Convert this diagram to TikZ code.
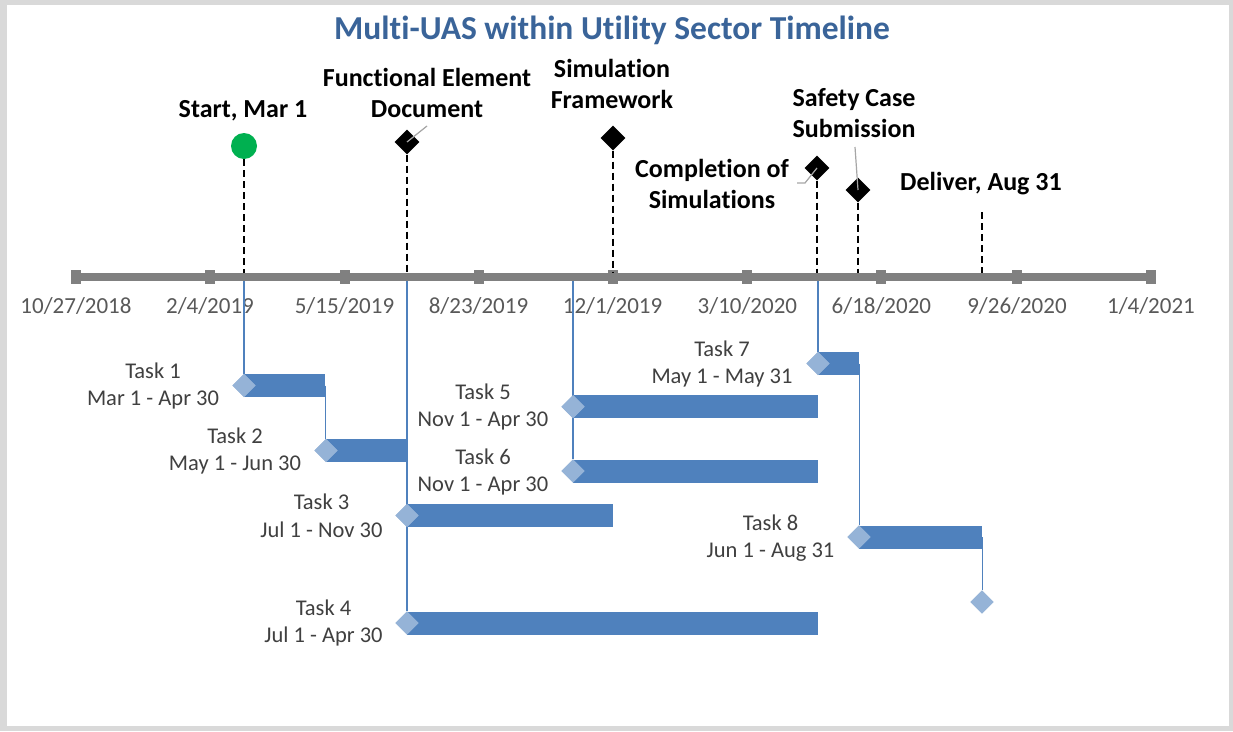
\documentclass[tikz,border=0pt]{standalone}
\usepackage{fontspec}
\setmainfont{Carlito}[Ligatures=NoCommon]
\usetikzlibrary{shapes.geometric}
\definecolor{framegray}{HTML}{D9D9D9}
\definecolor{axisgray}{HTML}{808080}
\definecolor{titleblue}{HTML}{3A6499}
\definecolor{barblue}{HTML}{4F81BD}
\definecolor{diablue}{HTML}{95B3D7}
\definecolor{msgreen}{HTML}{00B050}
\definecolor{leadergray}{HTML}{A6A6A6}
\definecolor{datetext}{HTML}{595959}
\definecolor{tasktext}{HTML}{404040}
\begin{document}
\begin{tikzpicture}[x=1pt,y=-1pt,
  titlelab/.style={font=\fontsize{33.5}{40}\selectfont\bfseries, text=titleblue, inner sep=0},
  mslabel/.style={font=\fontsize{26}{31}\selectfont\bfseries, align=center, inner sep=0},
  datelab/.style={font=\fontsize{23}{27}\selectfont, text=datetext, inner sep=0},
  tasklab/.style={font=\fontsize{22.5}{27.5}\selectfont, text=tasktext, align=center, inner sep=0},
  tickbox/.style={fill=axisgray, minimum width=10pt, minimum height=14pt, inner sep=0},
  msdia/.style={diamond, fill=black, minimum width=25pt, minimum height=25pt, inner sep=0},
  msdot/.style={circle, fill=msgreen, minimum size=26pt, inner sep=0},
  msline/.style={black, line width=1.3pt, dash pattern=on 7pt off 4pt},
  leader/.style={leadergray, line width=1.2pt},
  bar/.style={fill=barblue, minimum height=23pt, inner sep=0, anchor=west},
  tdia/.style={diamond, fill=diablue, minimum width=23pt, minimum height=23pt, inner sep=0},
  link/.style={barblue, line width=1.5pt}]

% frame
\fill[framegray] (0,0) rectangle (1233,731);
\fill[white] (7,5) rectangle (1229,726);
\useasboundingbox (0,0) rectangle (1233,731);

% title
\node[titlelab, anchor=base] (title) at (612,39) {Multi-UAS within Utility Sector Timeline};

% links from the axis down to the task bars start here
\coordinate (b1) at (244,281);
\coordinate (b2) at (407,281);
\coordinate (b3) at (573,281);
\coordinate (b4) at (818,281);

% time axis
\draw[axisgray, line width=8pt] (76,277) -- (1151,277);
\foreach \x/\lab [count=\i] in {76/{10/27/2018},210/{2/4/2019},344.5/{5/15/2019},478.5/{8/23/2019},612.6/{12/1/2019},747.4/{3/10/2020},881.4/{6/18/2020},1017/{9/26/2020},1151/{1/4/2021}} {
  \node[tickbox] (tk\i) at (\x,277) {};
  \node[datelab] (dl\i) at (\x,306) {\lab};
}

% milestones
\node[msdot] (m1) at (244,146) {};
\node[mslabel] (m1l) at (243,111) {Start, Mar 1};
\coordinate (a1) at (244,273);
\draw[msline] (m1.south) -- (a1);

\node[msdia] (m2) at (407,142) {};
\node[mslabel] (m2l) at (427,92.5) {Functional Element\\Document};
\coordinate (a2) at (407,273);
\coordinate (m2p) at (427,126);
\draw[msline] (m2.south) -- (a2);
\draw[leader] (m2p) -- (m2.center);

\node[msdia] (m3) at (613,138) {};
\node[mslabel] (m3l) at (612,84) {Simulation\\Framework};
\coordinate (a3) at (613,273);
\draw[msline] (m3.south) -- (a3);

\node[msdia] (m4) at (817,168) {};
\node[mslabel] (m4l) at (712,183.5) {Completion of\\Simulations};
\coordinate (a4) at (817,273);
\coordinate (m4p) at (797,183);
\coordinate (m4q) at (805,183);
\draw[msline] (m4.south) -- (a4);
\draw[leader] (m4p) -- (m4q) -- (m4.center);

\node[msdia] (m5) at (858,190) {};
\node[mslabel] (m5l) at (854,113) {Safety Case\\Submission};
\coordinate (a5) at (858,273);
\coordinate (m5p) at (855,147);
\draw[msline] (m5.south) -- (a5);
\draw[leader] (m5p) -- (m5.center);

\coordinate (m6) at (982,212);
\node[mslabel] (m6l) at (981,184) {Deliver, Aug 31};
\coordinate (a6) at (982,273);
\draw[msline] (m6) -- (a6);

% task bars
\node[bar, minimum width=81pt]  (t1) at (244,385.5) {};
\node[bar, minimum width=81pt]  (t2) at (326,450.5) {};
\node[bar, minimum width=206pt] (t3) at (407,515.5) {};
\node[bar, minimum width=411pt] (t4) at (407,623) {};
\node[bar, minimum width=245pt] (t5) at (573,406.7) {};
\node[bar, minimum width=245pt] (t6) at (573,471) {};
\node[bar, minimum width=41pt]  (t7) at (818,363.5) {};
\node[bar, minimum width=123pt] (t8) at (859,537) {};

% task start markers
\node[tdia] (d1) at (244,385.5) {};
\node[tdia] (d2) at (326,450.5) {};
\node[tdia] (d3) at (407,515.5) {};
\node[tdia] (d4) at (407,623) {};
\node[tdia] (d5) at (573,406.7) {};
\node[tdia] (d6) at (573,471) {};
\node[tdia] (d7) at (818,363.5) {};
\node[tdia] (d8) at (859,537) {};
\node[tdia] (d9) at (982,602) {};

% dependency links
\draw[link] (b1) -- (d1.north);
\draw[link] (t1.east) -- (t1.east |- d2.north);
\draw[link] (b2) -- (d4.north);
\draw[link] (b3) -- (d6.north);
\draw[link] (b4) -- (d7.north);
\draw[link] (t7.east) -- (t7.east |- d8.north);
\draw[link] (t8.east) -- (t8.east |- d9.north);

% markers painted again above the links
\foreach \d in {d1,d2,d3,d4,d5,d6,d7,d8,d9} {
  \fill[diablue] (\d.north) -- (\d.east) -- (\d.south) -- (\d.west) -- cycle;
}

% task labels
\node[tasklab] (l1) at (153,386) {Task 1\\Mar 1 - Apr 30};
\node[tasklab] (l2) at (235,451) {Task 2\\May 1 - Jun 30};
\node[tasklab] (l3) at (321.5,516) {Task 3\\Jul 1 - Nov 30};
\node[tasklab] (l4) at (323.5,623) {Task 4\\Jul 1 - Apr 30};
\node[tasklab] (l5) at (483,407) {Task 5\\Nov 1 - Apr 30};
\node[tasklab] (l6) at (483,472) {Task 6\\Nov 1 - Apr 30};
\node[tasklab] (l7) at (722,364) {Task 7\\May 1 - May 31};
\node[tasklab] (l8) at (770.5,538) {Task 8\\Jun 1 - Aug 31};
\end{tikzpicture}
\end{document}
